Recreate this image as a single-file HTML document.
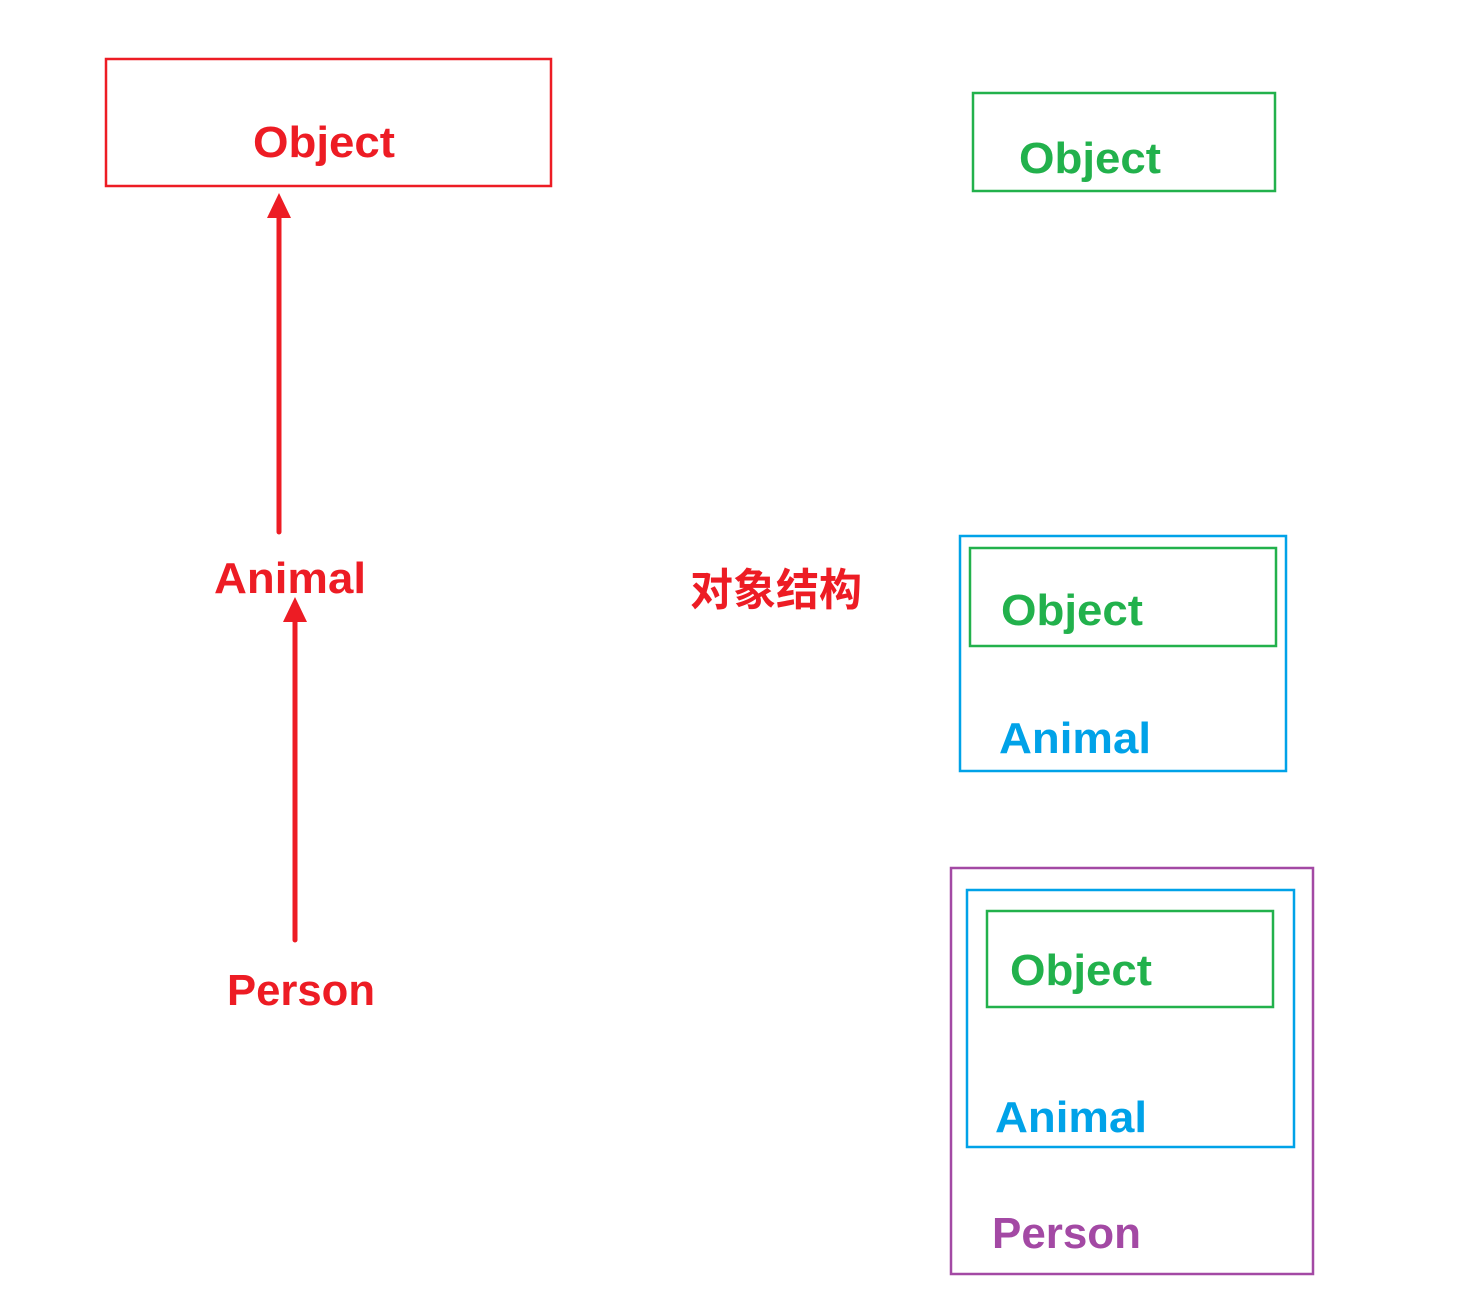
<!DOCTYPE html>
<html><head><meta charset="utf-8"><style>html,body{margin:0;padding:0;background:#fff}svg{display:block}text{font-family:"Liberation Sans","Noto Sans CJK SC",sans-serif;font-weight:bold;font-size:44px}</style></head>
<body>
<svg width="1479" height="1295" viewBox="0 0 1479 1295" xmlns="http://www.w3.org/2000/svg">
<rect x="106" y="59" width="445" height="127" fill="none" stroke="#ed1c24" stroke-width="2.5"/>
<text x="253" y="157" fill="#ed1c24" textLength="142" lengthAdjust="spacingAndGlyphs">Object</text>
<line x1="279" y1="532" x2="279" y2="212" stroke="#ed1c24" stroke-width="5" stroke-linecap="round"/>
<polygon points="279,193 267,218 291,218" fill="#ed1c24"/>
<text x="214" y="593" fill="#ed1c24" textLength="152" lengthAdjust="spacingAndGlyphs">Animal</text>
<line x1="295" y1="940" x2="295" y2="615" stroke="#ed1c24" stroke-width="5" stroke-linecap="round"/>
<polygon points="295,597 283,622 307,622" fill="#ed1c24"/>
<text x="227" y="1005" fill="#ed1c24" textLength="148" lengthAdjust="spacingAndGlyphs">Person</text>
<text x="690" y="605" fill="#ed1c24" font-size="42" textLength="172" lengthAdjust="spacingAndGlyphs">对象结构</text>

<rect x="973" y="93" width="302" height="98" fill="none" stroke="#22b14c" stroke-width="2.5"/>
<text x="1019" y="173" fill="#22b14c" textLength="142" lengthAdjust="spacingAndGlyphs">Object</text>

<rect x="960" y="536" width="326" height="235" fill="none" stroke="#00a2e8" stroke-width="2.5"/>
<rect x="970" y="548" width="306" height="98" fill="none" stroke="#22b14c" stroke-width="2.5"/>
<text x="1001" y="625" fill="#22b14c" textLength="142" lengthAdjust="spacingAndGlyphs">Object</text>
<text x="999" y="753" fill="#00a2e8" textLength="152" lengthAdjust="spacingAndGlyphs">Animal</text>

<rect x="951" y="868" width="362" height="406" fill="none" stroke="#a349a4" stroke-width="2.5"/>
<rect x="967" y="890" width="327" height="257" fill="none" stroke="#00a2e8" stroke-width="2.5"/>
<rect x="987" y="911" width="286" height="96" fill="none" stroke="#22b14c" stroke-width="2.5"/>
<text x="1010" y="985" fill="#22b14c" textLength="142" lengthAdjust="spacingAndGlyphs">Object</text>
<text x="995" y="1132" fill="#00a2e8" textLength="152" lengthAdjust="spacingAndGlyphs">Animal</text>
<text x="992" y="1248" fill="#a349a4" textLength="149" lengthAdjust="spacingAndGlyphs">Person</text>
</svg>
</body></html>
